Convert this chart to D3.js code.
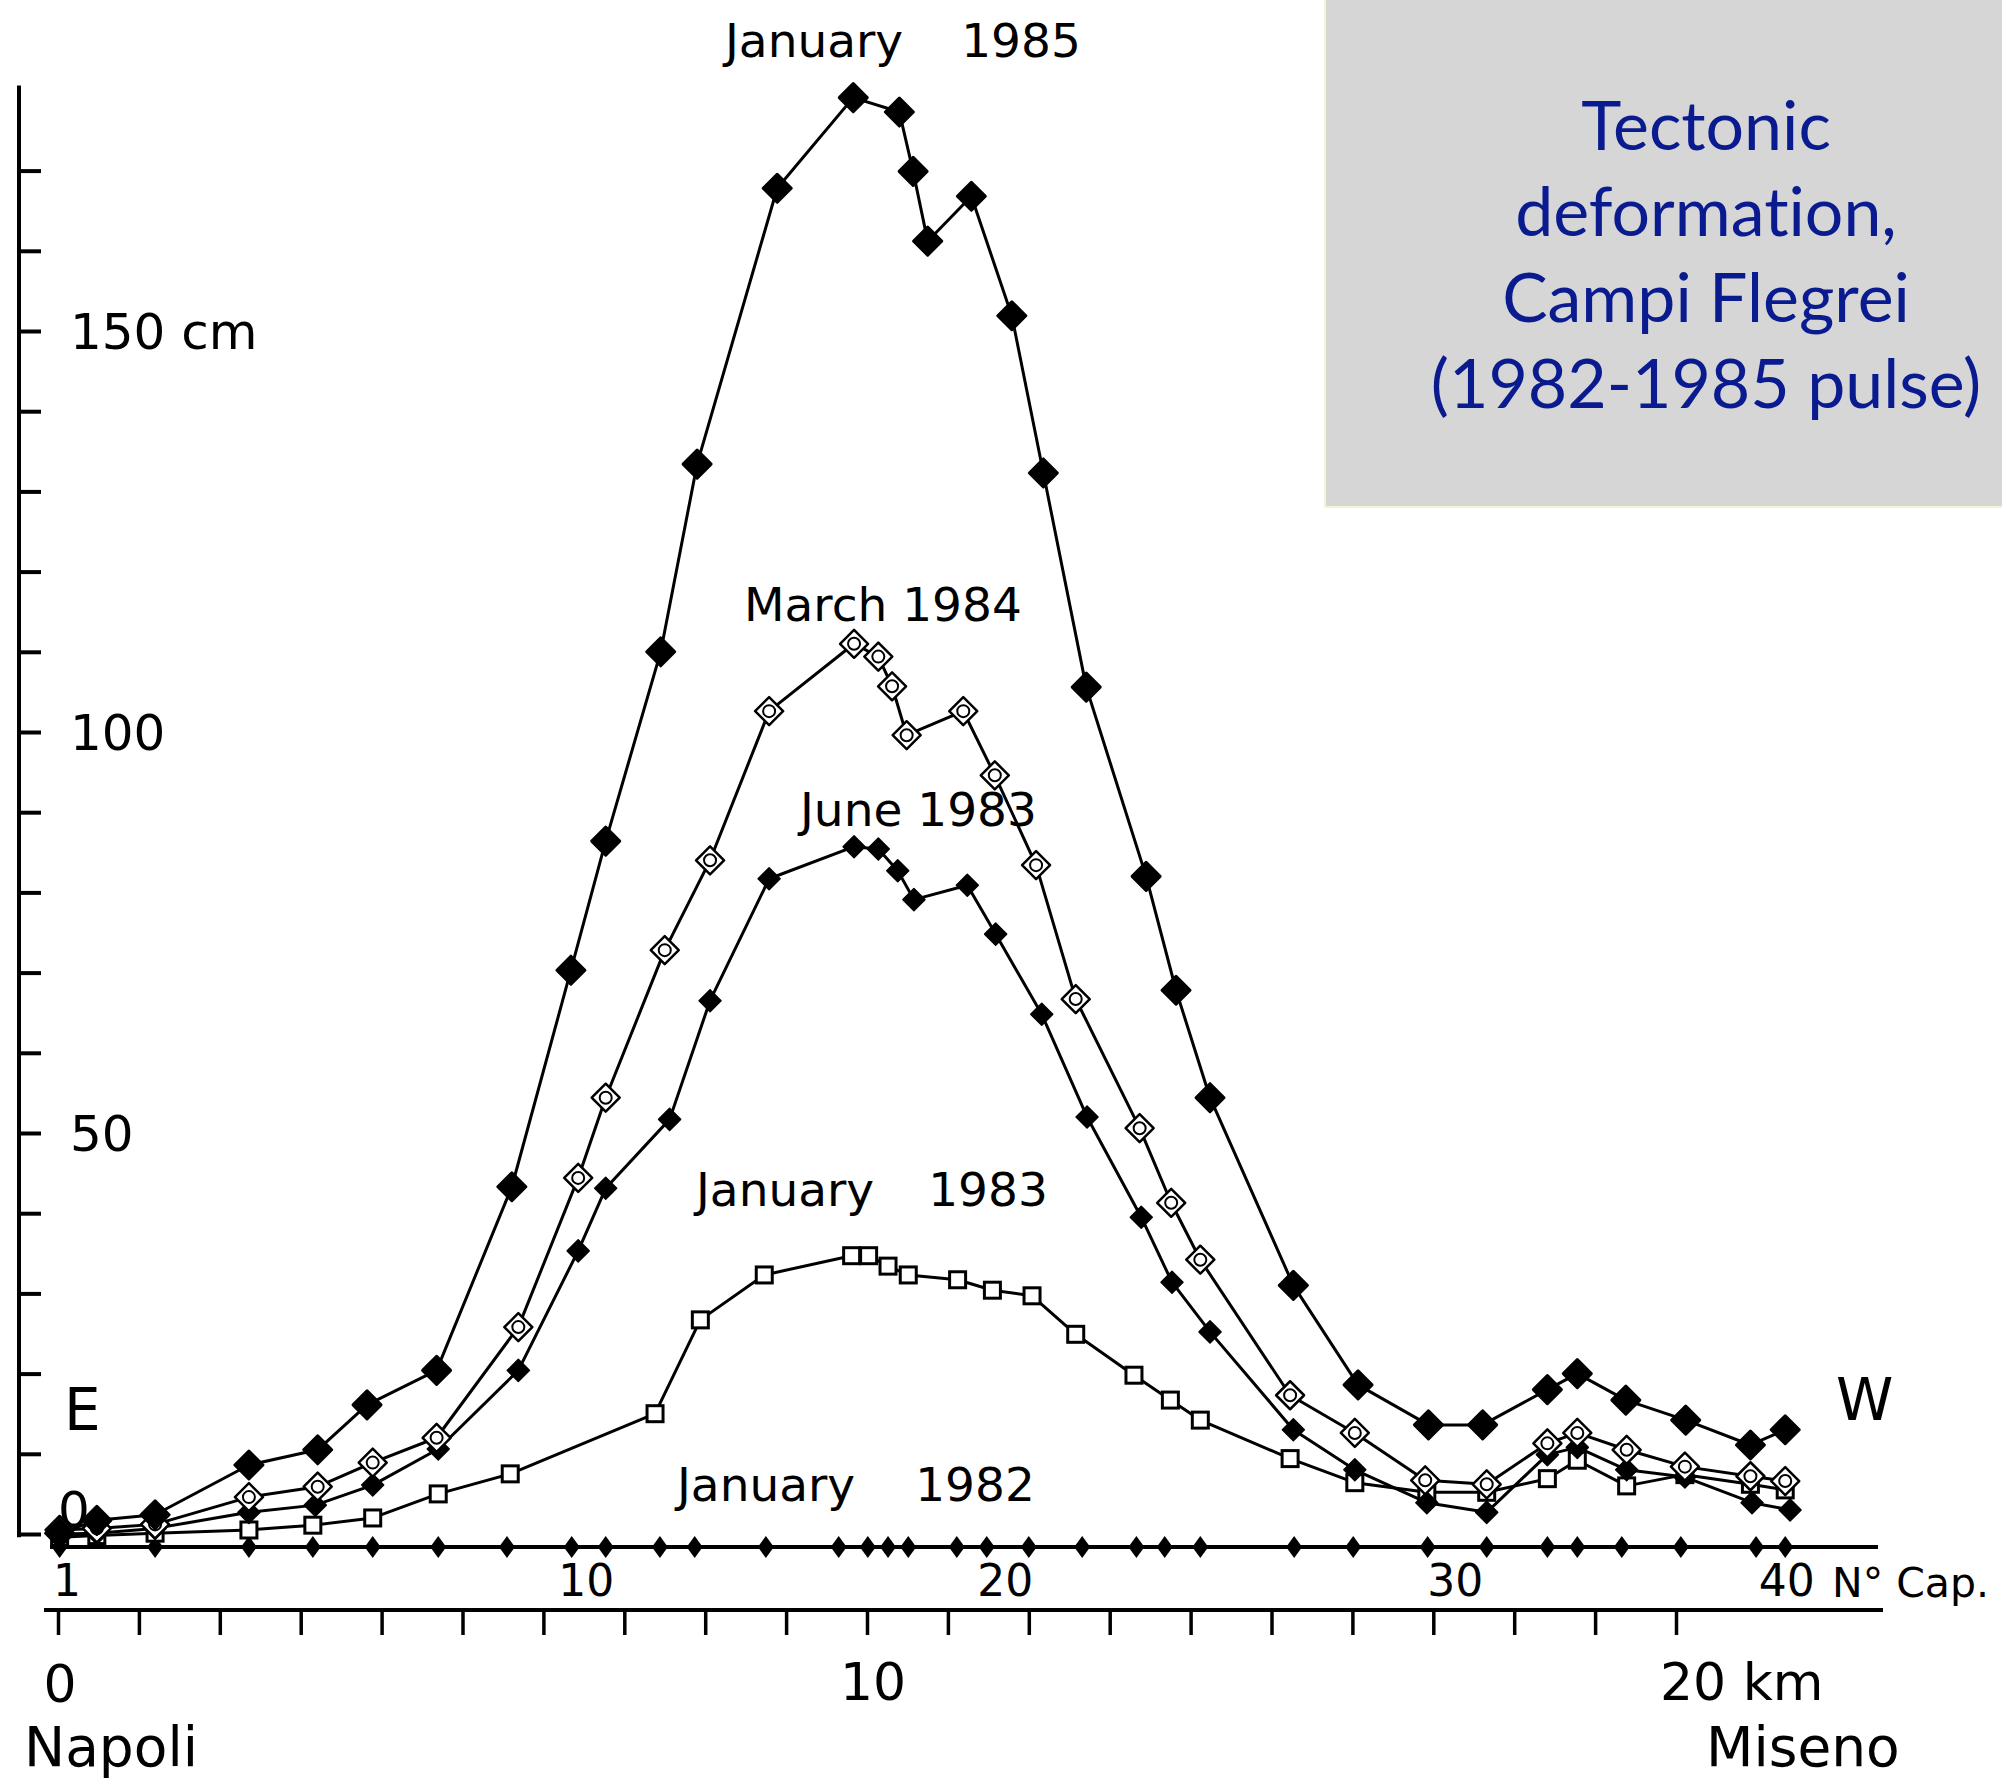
<!DOCTYPE html>
<html lang="en">
<head>
<meta charset="utf-8">
<title>Tectonic deformation, Campi Flegrei</title>
<script src="https://cdn.jsdelivr.net/npm/d3@7"></script>
<style>
  html, body { margin: 0; padding: 0; background: #fff; }
  svg { display: block; }
  .lbl { font-family: "DejaVu Sans", sans-serif; fill: #000; }
  .title { font-family: Lato, "Open Sans", sans-serif; fill: #0a1a8f; font-variant-ligatures: none; font-feature-settings: "liga" 0; }
</style>
</head>
<body>
<svg id="chart" width="2002" height="1782"></svg>
<script>
// benchmark positions along the levelling line, km from Napoli
var benchKm = [0.02, 1.20, 2.36, 3.15, 3.89, 4.70, 5.55, 6.35, 6.77, 7.44, 7.87, 8.75,
  9.65, 10.01, 10.26, 10.51, 11.11, 11.48, 12.00, 12.66, 13.33, 13.68, 14.12, 15.28,
  16.01, 16.93, 17.66, 18.41, 18.78, 19.33, 20.06, 20.99, 21.35];

// benchmark numbers written under the line
var benchNum = ["1", "10", "20", "30", "40"];
var benchNumKm = [0.11, 6.53, 11.71, 17.27, 21.37];

// uplift profiles: [km, cm]
var jan1985 = [[0.02,0.1],[0.48,1.7],[1.20,2.4],[2.36,8.6],[3.21,10.5],[3.82,16.1],[4.68,20.4],
  [5.61,43.3],[6.34,70.3],[6.77,86.4],[7.45,110.0],[7.90,133.4],[8.89,167.8],[9.83,179.1],
  [10.40,177.3],[10.57,169.9],[10.75,161.2],[11.29,166.8],[11.79,151.9],[12.18,132.3],
  [12.71,105.6],[13.45,82.0],[13.82,67.8],[14.24,54.4],[15.27,31.0],[16.07,18.6],[16.94,13.6],
  [17.61,13.6],[18.41,18.0],[18.78,20.0],[19.38,16.7],[20.12,14.2],[20.92,11.1],[21.35,13.0]];

var march1984 = [[0.02,0.5],[0.48,0.7],[1.20,1.2],[2.36,4.6],[3.21,5.9],[3.89,8.9],[4.68,12.0],
  [5.69,25.8],[6.43,44.4],[6.77,54.4],[7.50,72.8],[8.06,84.0],[8.79,102.6],[9.84,111.0],
  [10.14,109.4],[10.31,105.7],[10.49,99.6],[11.19,102.6],[11.58,94.6],[12.09,83.4],[12.58,66.7],
  [13.37,50.6],[13.76,41.3],[14.12,34.2],[15.23,17.3],[16.03,12.6],[16.90,6.7],[17.66,6.2],
  [18.41,11.3],[18.78,12.6],[19.39,10.5],[20.11,8.4],[20.92,7.2],[21.35,6.6]];

var june1983 = [[0.02,0.0],[0.48,0.1],[1.20,0.7],[2.36,2.7],[3.18,3.6],[3.89,6.1],[4.70,10.6],
  [5.69,20.4],[6.43,35.3],[6.77,43.1],[7.56,51.7],[8.06,66.5],[8.79,81.7],[9.84,85.7],
  [10.14,85.4],[10.38,82.7],[10.58,79.1],[11.24,80.9],[11.59,74.8],[12.16,64.8],[12.72,52.0],
  [13.39,39.5],[13.77,31.4],[14.24,25.2],[15.27,13.0],[16.03,8.0],[16.92,3.9],[17.66,2.7],
  [18.41,9.9],[18.78,10.8],[19.39,8.0],[20.11,7.1],[20.94,3.9],[21.41,3.0]];

var jan1983 = [[0.02,-0.4],[0.48,-0.2],[1.20,0.1],[2.36,0.5],[3.15,1.1],[3.89,2.0],[4.70,5.0],
  [5.59,7.5],[7.38,15.0],[7.94,26.7],[8.73,32.3],[9.81,34.7],[10.02,34.7],[10.26,33.4],
  [10.51,32.3],[11.12,31.7],[11.55,30.4],[12.04,29.7],[12.58,24.9],[13.30,19.8],[13.75,16.7],
  [14.12,14.2],[15.23,9.4],[16.03,6.4],[16.92,5.2],[17.66,5.2],[18.41,6.9],[18.78,9.2],
  [19.39,6.0],[20.11,7.4],[20.92,6.2],[21.35,5.5]];

var yLabelVal = [150, 100, 50, 0];
var yLabelText = ["150 cm", "100", "50", "0"];
var kmTicks = d3.range(0, 21);

var svg = d3.select("#chart");

var x = d3.scaleLinear().domain([0, 20]).range([58, 1676]);
var y = d3.scaleLinear().domain([0, 170]).range([1534, 170.6]);

function diamond(hw, hh) {
  return "M0," + (-hh) + "L" + hw + ",0L0," + hh + "L" + (-hw) + ",0Z";
}

// title box
svg.append("rect")
  .attr("x", 1325).attr("y", -2).attr("width", 680).attr("height", 509)
  .attr("fill", "#d6d6d6").attr("stroke", "#f3f3d6").attr("stroke-width", 2);
var titleLines = ["Tectonic", "deformation,", "Campi Flegrei", "(1982-1985 pulse)"];
svg.append("g").selectAll("text").data(titleLines).enter().append("text")
  .attr("class", "title")
  .attr("x", 1706).attr("y", function(d, i) { return 150 + i * 86; })
  .attr("text-anchor", "middle").attr("font-size", 68)
  .text(function(d) { return d; });

// vertical axis
var yAxis = d3.axisRight(y).tickValues(d3.range(0, 171, 10)).tickSize(22).tickSizeOuter(0).tickFormat("");
var yg = svg.append("g").attr("transform", "translate(19,0)").call(yAxis);
yg.select(".domain").remove();
yg.selectAll(".tick line").attr("stroke", "#000").attr("stroke-width", 4);
svg.append("line").attr("x1", 19).attr("x2", 19).attr("y1", y(180.6)).attr("y2", y(-0.4))
  .attr("stroke", "#000").attr("stroke-width", 4);

svg.append("g").selectAll("text").data(yLabelVal).enter().append("text")
  .attr("class", "lbl").attr("font-size", 50)
  .attr("x", function(d) { return d === 0 ? 58 : 70; })
  .attr("y", function(d) { return d === 0 ? y(0) - 7 : y(d) + 18; })
  .text(function(d, i) { return yLabelText[i]; });

// benchmark line (January 1982 reference)
var baseY = y(0) + 13;
svg.append("line").attr("x1", 50).attr("x2", 1878).attr("y1", baseY).attr("y2", baseY)
  .attr("stroke", "#000").attr("stroke-width", 4);
svg.append("g").selectAll("path").data(benchKm).enter().append("path")
  .attr("d", diamond(8, 11))
  .attr("transform", function(d) { return "translate(" + x(d) + "," + baseY + ")"; })
  .attr("fill", "#000");
svg.append("g").selectAll("text").data(benchNum).enter().append("text")
  .attr("class", "lbl").attr("font-size", 44)
  .attr("x", function(d, i) { return x(benchNumKm[i]); })
  .attr("y", baseY + 49)
  .attr("text-anchor", "middle")
  .text(function(d) { return d; });
svg.append("text").attr("class", "lbl").attr("font-size", 41)
  .attr("x", 1832).attr("y", baseY + 50).text("N° Cap.");

// km axis
var kmY = 1610;
svg.append("line").attr("x1", 44).attr("x2", 1883).attr("y1", kmY).attr("y2", kmY)
  .attr("stroke", "#000").attr("stroke-width", 4);
var xAxis = d3.axisBottom(x).tickValues(kmTicks).tickSize(25).tickSizeOuter(0).tickFormat("");
var xg = svg.append("g").attr("transform", "translate(0," + kmY + ")").call(xAxis);
xg.select(".domain").remove();
xg.selectAll(".tick line").attr("stroke", "#000").attr("stroke-width", 3.5);
svg.append("text").attr("class", "lbl").attr("font-size", 52)
  .attr("x", x(0) + 2).attr("y", 1702).attr("text-anchor", "middle").text("0");
svg.append("text").attr("class", "lbl").attr("font-size", 52)
  .attr("x", x(10) + 6).attr("y", 1700).attr("text-anchor", "middle").text("10");
svg.append("text").attr("class", "lbl").attr("font-size", 52)
  .attr("x", x(20) - 16).attr("y", 1700).text("20 km");
svg.append("text").attr("class", "lbl").attr("font-size", 55)
  .attr("x", 24).attr("y", 1766).text("Napoli");
svg.append("text").attr("class", "lbl").attr("font-size", 55)
  .attr("x", 1706).attr("y", 1766).text("Miseno");
svg.append("text").attr("class", "lbl").attr("font-size", 58)
  .attr("x", 64).attr("y", 1430).text("E");
svg.append("text").attr("class", "lbl").attr("font-size", 58)
  .attr("x", 1836).attr("y", 1420).text("W");

// profiles
var line = d3.line().x(function(d) { return x(d[0]); }).y(function(d) { return y(d[1]); });
var series = [jan1983, june1983, march1984, jan1985];
svg.append("g").selectAll("path").data(series).enter().append("path")
  .attr("d", line).attr("fill", "none").attr("stroke", "#000").attr("stroke-width", 3)
  .attr("stroke-linejoin", "round");

function place(d) { return "translate(" + x(d[0]) + "," + y(d[1]) + ")"; }

svg.append("g").selectAll("rect").data(jan1983).enter().append("rect")
  .attr("x", function(d) { return x(d[0]) - 8; }).attr("y", function(d) { return y(d[1]) - 8; })
  .attr("width", 16).attr("height", 16)
  .attr("fill", "#fff").attr("stroke", "#000").attr("stroke-width", 3);

svg.append("g").selectAll("path").data(june1983).enter().append("path")
  .attr("d", diamond(11, 11)).attr("transform", place)
  .attr("fill", "#000").attr("stroke", "#000").attr("stroke-width", 1.5).attr("stroke-linejoin", "round");

var mg = svg.append("g").selectAll("g").data(march1984).enter().append("g").attr("transform", place);
mg.append("path").attr("d", diamond(14, 14))
  .attr("fill", "#fff").attr("stroke", "#000").attr("stroke-width", 2.5).attr("stroke-linejoin", "round");
mg.append("circle").attr("r", 6).attr("fill", "none").attr("stroke", "#000").attr("stroke-width", 2);

svg.append("g").selectAll("path").data(jan1985).enter().append("path")
  .attr("d", diamond(14, 14)).attr("transform", place)
  .attr("fill", "#000").attr("stroke", "#000").attr("stroke-width", 3).attr("stroke-linejoin", "round");

// series labels
function dateLabel(px, py, month, year, gap) {
  var t = svg.append("text").attr("class", "lbl").attr("font-size", 47).attr("x", px).attr("y", py);
  t.append("tspan").text(month);
  if (year) t.append("tspan").attr("dx", gap).text(year);
}
dateLabel(725, 57, "January", "1985", 58);
dateLabel(744, 621, "March 1984");
dateLabel(800, 826, "June 1983");
dateLabel(696, 1206, "January", "1983", 54);
dateLabel(677, 1501, "January", "1982", 60);
</script>
</body>
</html>
